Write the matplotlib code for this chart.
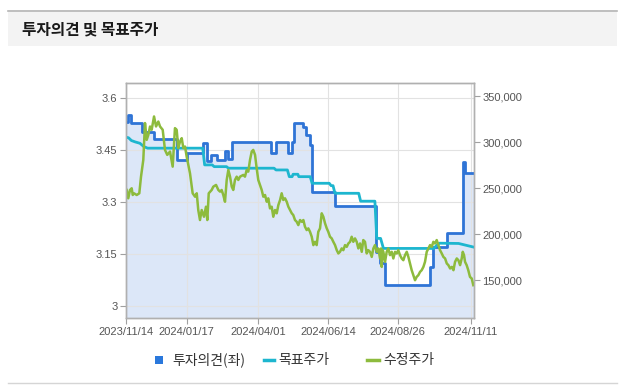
import numpy as np
import pandas as pd
import matplotlib
matplotlib.use('Agg')
import matplotlib.pyplot as plt
from matplotlib.patches import Rectangle
from matplotlib.lines import Line2D

plt.rcParams['font.family'] = ['Liberation Sans', 'Noto Sans CJK KR', 'DejaVu Sans']

# ---- data (days counted from 2023/11/14) ----
start = pd.Timestamp('2023-11-14')
end_day = 366

# investment opinion (left axis), step values
opinion_day = [0, 2.5, 6, 17, 30, 54, 64, 81, 86, 90, 96, 104, 108, 112, 153, 158, 171, 175, 177,
               186, 190, 194, 196, 220, 263, 267, 273, 320, 323, 338, 354.5, 357]
opinion_val = [3.532, 3.552, 3.528, 3.503, 3.481, 3.421, 3.442, 3.471, 3.418, 3.436, 3.421, 3.448,
               3.424, 3.472, 3.441, 3.472, 3.441, 3.472, 3.528, 3.515, 3.494, 3.465, 3.328, 3.289,
               3.155, 3.125, 3.061, 3.112, 3.170, 3.209, 3.416, 3.383]

# target price (right axis)
target_day = [0, 3, 6, 10, 15, 19, 23, 81, 83, 91, 93, 106, 108, 156, 158, 170, 172, 175, 176, 181,
              182, 194, 196, 214, 216, 218, 220, 245, 247, 262, 264, 268, 271, 324, 327, 330, 350, 366]
target_val = [305700, 305000, 302000, 300500, 299000, 295500, 293700, 293700, 275500, 275500, 273600,
              273600, 271900, 271900, 270000, 270000, 262700, 262700, 265300, 265300, 262700, 262700,
              255500, 255500, 252900, 252900, 244600, 244600, 236000, 236000, 195500, 195500, 184600,
              184600, 188000, 190300, 190000, 186000]

# adjusted price (right axis)
price_day = [1, 2.7, 4.5, 6.3, 7.4, 8.7, 11.6, 14.3, 16.1, 18.5, 20.3, 22.1, 23.8, 25.6, 27.3, 29.8,
             31.9, 34.3, 36.1, 38.9, 41.3, 43.7, 46.6, 49.4, 51.8, 53.6, 55.3, 57.1, 58.9, 60.6, 62.4,
             64.1, 67.6, 70.4, 72.9, 74.7, 76.3, 78.1, 79.9, 82.3, 84.4, 85.8, 87.3, 90.4, 92.1, 95,
             97.4, 99.2, 100.9, 102.6, 104.4, 106.2, 107.9, 109.7, 111.5, 113.1, 114.9, 116.7, 118.4,
             120.2, 123.7, 125.4, 127.2, 128.9, 130.7, 132.5, 134.1, 136, 137.7, 139.4, 141.2, 143,
             144.7, 146.5, 148.3, 149.9, 151.7, 153.5, 155.2, 157, 158.8, 160.5, 162.3, 164, 165.7,
             167.5, 169.3, 171, 172.8, 174.6, 176.2, 178, 179.8, 181.5, 183.3, 185.1, 186.8, 188.5,
             190.3, 192, 193.8, 195.6, 197.3, 199.1, 200.8, 202.5, 204.3, 206.1, 207.8, 209.6, 211.4,
             213, 214.8, 216.6, 218.3, 220.1, 221.9, 223.6, 225.3, 227.1, 228.8, 230.6, 232.4, 234.1,
             235.9, 237.6, 239.3, 241.1, 242.9, 244.6, 246.4, 248.2, 249.8, 251.6, 253.4, 255.1,
             256.9, 258.7, 260.4, 262.1, 263.9, 265.6, 267.4, 268.5, 269.2, 270.2, 270.9, 272.7,
             274.4, 276.1, 277.9, 279.7, 281.4, 283.2, 285, 286.6, 288.4, 290.2, 291.9, 293.7, 295.5,
             297.2, 298.9, 300.7, 302.4, 304.2, 305.9, 307.7, 309.5, 311.2, 313, 314.7, 316.5, 318.3,
             320, 321.8, 323.5, 325.2, 327, 328.8, 330.5, 332.3, 334, 335.8, 337.6, 339.3, 341.1,
             342.9, 344.6, 346.3, 348.1, 349.8, 351.6, 353.3, 354.4, 355.7, 356.8, 358.5, 360.2, 362,
             363.8, 365.5]
price_val = [248200, 239150, 248200, 250060, 242750, 244600, 242750, 244600, 262700, 280900, 321000,
             302800, 308200, 317300, 313700, 328200, 317300, 322700, 317300, 313700, 291800, 286400,
             290000, 273600, 315500, 313700, 293700, 300900, 304600, 293700, 295450, 284500, 266400,
             244600, 240900, 244600, 226400, 215500, 226400, 219100, 230000, 215500, 244600, 248200,
             251800, 253700, 248200, 246400, 248200, 242750, 235400, 259100, 270000, 262700, 251800,
             248200, 259100, 262700, 259100, 262700, 264600, 262700, 270000, 268200, 280900, 290000,
             291800, 286400, 271900, 259100, 253700, 248200, 240900, 242750, 235400, 239150, 228200,
             230000, 219100, 226400, 222800, 231800, 237250, 244600, 237300, 239150, 235400, 230000,
             226400, 222800, 220900, 215500, 213600, 210000, 215500, 213600, 215500, 208200, 204600,
             206400, 202700, 197300, 188200, 191800, 188200, 202700, 206400, 222800, 219100, 211900,
             206400, 202700, 197300, 195500, 191800, 188200, 182700, 179150, 180900, 184600, 182700,
             188200, 186350, 190000, 191800, 197300, 191800, 195500, 191800, 184600, 190000, 180900,
             193700, 191800, 179150, 182700, 180900, 175400, 184600, 188200, 180900, 184600, 173700,
             184600, 164500, 182700, 180900, 170000, 180900, 184600, 177300, 180900, 173700, 180900,
             179150, 182700, 177300, 173700, 171800, 177300, 180900, 175400, 168200, 160900, 155500,
             150000, 153600, 155500, 159100, 160900, 164500, 170000, 180900, 184600, 188200, 186350,
             191800, 190000, 193700, 188200, 182700, 179150, 175400, 173700, 168200, 166400, 162800,
             164500, 160900, 170000, 173700, 171800, 166400, 173700, 180900, 177300, 170000, 166400,
             160900, 153600, 151900, 144600]

tick_dates = ['2023-11-14', '2024-01-17', '2024-04-01', '2024-06-14', '2024-08-26', '2024-11-11']
tick_labels = ['2023/11/14', '2024/01/17', '2024/04/01', '2024/06/14', '2024/08/26', '2024/11/11']
left_ticks = [3, 3.15, 3.3, 3.45, 3.6]
left_labels = ['3', '3.15', '3.3', '3.45', '3.6']
right_ticks = [150000, 200000, 250000, 300000, 350000]


def to_dates(days):
    return start + pd.to_timedelta(np.asarray(days, dtype=float), unit='D')


W, H = 629, 390
fig = plt.figure(figsize=(W / 100, H / 100), dpi=100)
fig.patch.set_facecolor('white')


def fx(px):
    return px / W


def fy(py):
    return 1 - py / H


# header bar
fig.patches.append(Rectangle((fx(8), fy(46)), fx(617) - fx(8), 36 / H, transform=fig.transFigure,
                             facecolor='#f3f3f3', edgecolor='none'))
fig.add_artist(Line2D([fx(8), fx(617)], [fy(10.5), fy(10.5)], color='#b5b5b5', lw=1.2))
fig.add_artist(Line2D([fx(8), fx(617)], [fy(383), fy(383)], color='#d5d5d5', lw=1))
fig.text(fx(22), fy(30), '투자의견 및 목표주가', fontsize=11.3, fontweight='bold',
         family=['Noto Sans CJK KR'], va='center', ha='left', color='#1a1a1a')

ax = fig.add_axes([fx(125.7), fy(318.3), fx(473.8) - fx(125.7), (318.3 - 82.7) / H])
ax2 = ax.twinx()

bx = to_dates(opinion_day + [end_day])
bv = opinion_val + [opinion_val[-1]]
ymin_left = 2.964
ax.fill_between(bx, bv, ymin_left, step='post', color='#dce7f8', lw=0, zorder=1)
ax.step(bx, bv, where='post', color='#2f74d6', lw=2, zorder=3)

ax2.plot(to_dates(target_day), target_val, color='#1db6cf', lw=2)
ax2.plot(to_dates(price_day), price_val, color='#8dbb3d', lw=1.8)

ax.set_xlim(start, start + pd.Timedelta(days=end_day))
ax.set_ylim(ymin_left, 3.644)
ax2.set_ylim(108560, 364950)

ax.set_xticks(pd.to_datetime(tick_dates))
ax.set_xticklabels(tick_labels)
ax.set_yticks(left_ticks)
ax.set_yticklabels(left_labels)
ax2.set_yticks(right_ticks)
ax2.set_yticklabels(['{:,}'.format(v) for v in right_ticks])

ax.grid(True, color='#e2e2e2', lw=0.8)
ax.set_axisbelow('line')
for a in (ax, ax2):
    for s in a.spines.values():
        s.set_color('#b0b0b0')
        s.set_linewidth(1)
    a.tick_params(length=4, width=0.8, color='#a0a0a0', labelcolor='#555555', labelsize=8, pad=2)

# legend
fig.patches.append(Rectangle((fx(155), fy(364)), 8 / W, 8 / H, transform=fig.transFigure,
                             facecolor='#2a78dc', edgecolor='none'))
fig.text(fx(172), fy(360), '투자의견(좌)', fontsize=10, family=['Noto Sans CJK KR'],
         va='center', color='#333333')
fig.add_artist(Line2D([fx(264), fx(274)], [fy(360), fy(360)], color='#1db6cf', lw=2.5))
fig.text(fx(278), fy(360), '목표주가', fontsize=10, family=['Noto Sans CJK KR'],
         va='center', color='#333333')
fig.add_artist(Line2D([fx(367), fx(379)], [fy(360), fy(360)], color='#8dbb3d', lw=2.5))
fig.text(fx(383), fy(360), '수정주가', fontsize=10, family=['Noto Sans CJK KR'],
         va='center', color='#333333')

fig.savefig('out.png', dpi=100)
